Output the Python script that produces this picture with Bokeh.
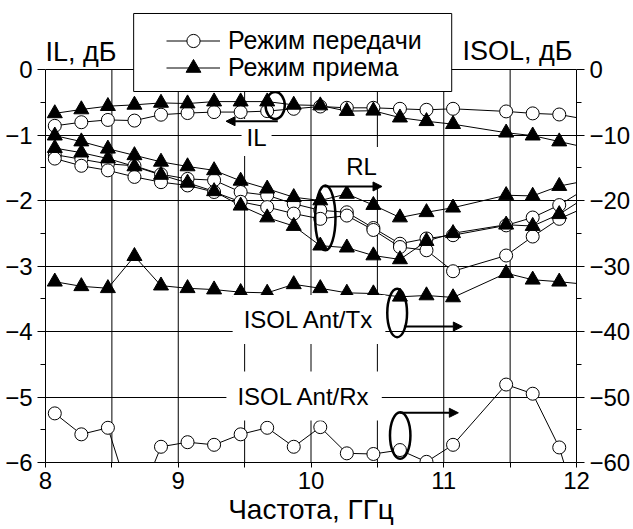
from bokeh.plotting import figure
from bokeh.models import (Range1d, LinearAxis, FixedTicker, Legend, LegendItem,
                          Label, Arrow, NormalHead, BoxAnnotation)
from bokeh.embed import file_html
from bokeh.resources import INLINE

# ---------------- data ----------------
freq = [8.07, 8.27, 8.47, 8.67, 8.87, 9.07, 9.27, 9.47, 9.67, 9.87,
        10.07, 10.27, 10.47, 10.67, 10.87, 11.07, 11.47, 11.67, 11.87, 12.07]

# insertion loss, dB (left axis)
il_tx = [-0.86, -0.805, -0.77, -0.78, -0.69, -0.665, -0.65, -0.65, -0.635, -0.60,
         -0.565, -0.585, -0.585, -0.60, -0.615, -0.60, -0.64, -0.67, -0.687, -0.76]
il_rx = [-0.67, -0.61, -0.56, -0.54, -0.51, -0.52, -0.49, -0.49, -0.49, -0.54,
         -0.55, -0.635, -0.63, -0.735, -0.79, -0.835, -0.965, -1.01, -1.10, -1.19]

# return loss, dB (right axis)
rl_rx_1 = [-10.1, -11.0, -12.1, -13.1, -14.1, -14.8, -15.4, -17.0, -18.2, -19.5,
           -20.0, -19.0, -20.7, -22.6, -21.8, -21.1, -19.2, -19.3, -17.8, -17.0]
rl_rx_2 = [-12.0, -12.7, -13.6, -14.8, -16.1, -17.3, -18.6, -20.8, -22.6, -23.9,
           -26.9, -27.2, -28.4, -29.0, -26.2, -25.0, -23.7, -23.9, -22.1, -19.5]
rl_tx_1 = [-13.0, -13.7, -14.4, -14.7, -16.0, -16.7, -16.9, -18.7, -19.2, -20.5,
           -21.5, -21.8, -24.2, -26.6, -25.8, -25.3, -23.8, -22.6, -20.7, -18.2]
rl_tx_2 = [-13.6, -14.7, -15.4, -16.4, -17.2, -17.7, -18.7, -20.2, -21.0, -22.0,
           -22.8, -22.3, -24.5, -27.1, -27.6, -30.8, -28.4, -25.5, -22.8, -21.0]

# isolation, dB (right axis)
isol_ant_tx = [-32.4, -33.1, -33.4, -28.5, -33.0, -33.4, -33.6, -34.0, -34.1, -32.8,
               -33.4, -34.1, -34.2, -34.7, -34.5, -34.8, -31.1, -32.1, -32.4, -32.8]
isol_ant_rx = [-52.5, -55.7, -54.7, -67.5, -57.6, -56.9, -57.3, -55.7, -54.7, -57.6,
               -54.6, -58.6, -58.7, -58.1, -59.9, -57.3, -48.1, -49.5, -57.7, -71.0]

x_ticks = [8, 9, 10, 11, 12]
x_minor = [8.5, 9.5, 10.5, 11.5]
il_ticks = [0, -1, -2, -3, -4, -5, -6]
il_minor = [-0.5, -1.5, -2.5, -3.5, -4.5, -5.5]
db_ticks = [0, -10, -20, -30, -40, -50, -60]
db_minor = [-5, -15, -25, -35, -45, -55]

legend_labels = ["Режим передачи", "Режим приема"]

# annotation ellipses: x, y (left-axis units), width, height
ell_x = [9.73, 10.108, 10.649, 10.672]
ell_y = [-0.55, -2.267, -3.718, -5.588]
ell_w = [0.145, 0.153, 0.149, 0.154]
ell_h = [0.41, 0.99, 0.74, 0.71]

FONT = "Liberation Sans"
FS = "24px"

# frame spans the whole height above the axis so that the titles and the
# legend (which sit above the 0 dB line) are inside the drawing area
Y_TOP = 69 / 65.5
p = figure(width=633, height=529, x_range=Range1d(8, 12), y_range=Range1d(-6, Y_TOP),
           output_backend="svg", toolbar_location=None,
           min_border_left=45, min_border_right=52, min_border_top=0, min_border_bottom=67)
p.extra_y_ranges = {"db": Range1d(-60, 10 * Y_TOP)}
p.background_fill_color = "white"
p.border_fill_color = "white"
p.outline_line_color = None

xt = FixedTicker(ticks=x_ticks, minor_ticks=x_minor)
yt = FixedTicker(ticks=il_ticks, minor_ticks=il_minor)
p.xaxis.ticker = xt
p.yaxis.ticker = yt
p.ygrid.ticker = yt
p.xgrid.visible = False
p.ygrid.grid_line_color = "black"
p.yaxis.bounds = (-6, 0)

right = LinearAxis(y_range_name="db", bounds=(-60, 0),
                   ticker=FixedTicker(ticks=db_ticks, minor_ticks=db_minor))
p.add_layout(right, "right")

for ax in [p.xaxis[0], p.yaxis[0], right]:
    ax.axis_line_color = "black"
    ax.major_tick_line_color = "black"
    ax.minor_tick_line_color = "black"
    ax.major_label_text_font = FONT
    ax.major_label_text_font_size = FS
    ax.major_label_text_color = "black"
    ax.major_tick_in = 0
    ax.minor_tick_in = 0
for ax in [p.yaxis[0], right]:
    ax.major_tick_out = 8
    ax.minor_tick_out = 5
    ax.major_label_standoff = 5
p.xaxis.major_tick_out = 5
p.xaxis.minor_tick_out = 5
p.xaxis.major_label_standoff = 4
p.xaxis.axis_label = "Частота, ГГц"
p.xaxis.axis_label_text_font = FONT
p.xaxis.axis_label_text_font_size = "28px"
p.xaxis.axis_label_text_font_style = "normal"
p.xaxis.axis_label_text_color = "black"
p.xaxis.axis_label_standoff = 2

# vertical grid lines (major + minor x ticks), limited to the axis box
gx = x_ticks[1:-1] + x_minor
p.segment(x0=gx, y0=[il_ticks[-1]] * len(gx), x1=gx, y1=[il_ticks[0]] * len(gx),
          line_color="black", line_width=1, level="underlay")

# ---------------- lines ----------------
kw = dict(line_color="black", line_width=1)
l_iltx = p.line(freq, il_tx, **kw)
l_ilrx = p.line(freq, il_rx, **kw)
for s in [rl_rx_1, rl_rx_2, rl_tx_1, rl_tx_2, isol_ant_tx, isol_ant_rx]:
    p.line(freq, s, y_range_name="db", **kw)

# ---------------- markers ----------------
ck = dict(marker="circle", size=13, fill_color="white", line_color="black", line_width=1)
tk = dict(marker="triangle", size=15, fill_color="black", line_color="black", line_width=1)
fx = freq[:-1]
for s in [rl_tx_1, rl_tx_2, isol_ant_rx]:
    p.scatter(fx, s[:-1], y_range_name="db", **ck)
s_iltx = p.scatter(fx, il_tx[:-1], **ck)
for s in [rl_rx_1, rl_rx_2, isol_ant_tx]:
    p.scatter(fx, s[:-1], y_range_name="db", **tk)
s_ilrx = p.scatter(fx, il_rx[:-1], **tk)

# ---------------- annotations ----------------
p.ellipse(x=ell_x, y=ell_y, width=ell_w, height=ell_h, fill_color=None,
          line_color="black", line_width=2.5)

def lab(x, y, text, align="center", bg=True, pad=5, size=FS):
    l = Label(x=x, y=y, text=text, text_align=align, text_baseline="middle",
              text_font=FONT, text_font_size=size, text_color="black")
    if bg:
        l.background_fill_color = "white"
        l.padding = pad
    p.add_layout(l)

lab(9.59, -1.04, "IL", pad=5)
lab(10.381, -1.48, "RL", pad=6)
lab(9.985, -3.817, "ISOL Ant/Tx", pad=11)
lab(9.948, -4.985, "ISOL Ant/Rx", pad=11)
lab(8.0, 0.26, "IL, дБ", align="left", bg=False, size="27px")
lab(11.97, 0.29, "ISOL, дБ", align="right", bg=False, size="27px")

def arrow(x0, x1, y):
    p.add_layout(Arrow(end=NormalHead(size=9, fill_color="black", line_color="black", line_width=1),
                       x_start=x0, y_start=y, x_end=x1, y_end=y,
                       line_color="black", line_width=2))

arrow(9.75, 9.36, -0.79)
arrow(10.10, 10.535, -1.786)
arrow(10.70, 11.14, -3.924)
arrow(10.67, 11.11, -5.241)

# legend frame (white box with black border), then one legend per row
p.add_layout(BoxAnnotation(left=8.664, right=11.06, top=0.855, bottom=-0.336,
                           fill_color="white", fill_alpha=1.0,
                           line_color="black", line_width=1, line_alpha=1.0))

def legend_row(label, rends, gh, top_px):
    lg = Legend(items=[LegendItem(label=label, renderers=rends)],
                location=(121, 393 - top_px - gh), orientation="vertical",
                label_text_font=FONT, label_text_font_size="25px", label_text_color="black",
                border_line_color=None, background_fill_alpha=0.0,
                glyph_width=54, glyph_height=gh, label_height=gh, label_standoff=8,
                padding=0, spacing=0, margin=0)
    p.add_layout(lg)

# frame top is 69 px above the 0 line; rows centred at 40 px and 67 px from the top
legend_row(legend_labels[0], [l_iltx, s_iltx], 33, 40 - 16.5 - 69)
legend_row(legend_labels[1], [l_ilrx, s_ilrx], 37, 67 - 18.5 - 69)

open("out.html", "w").write(file_html(p, INLINE))
